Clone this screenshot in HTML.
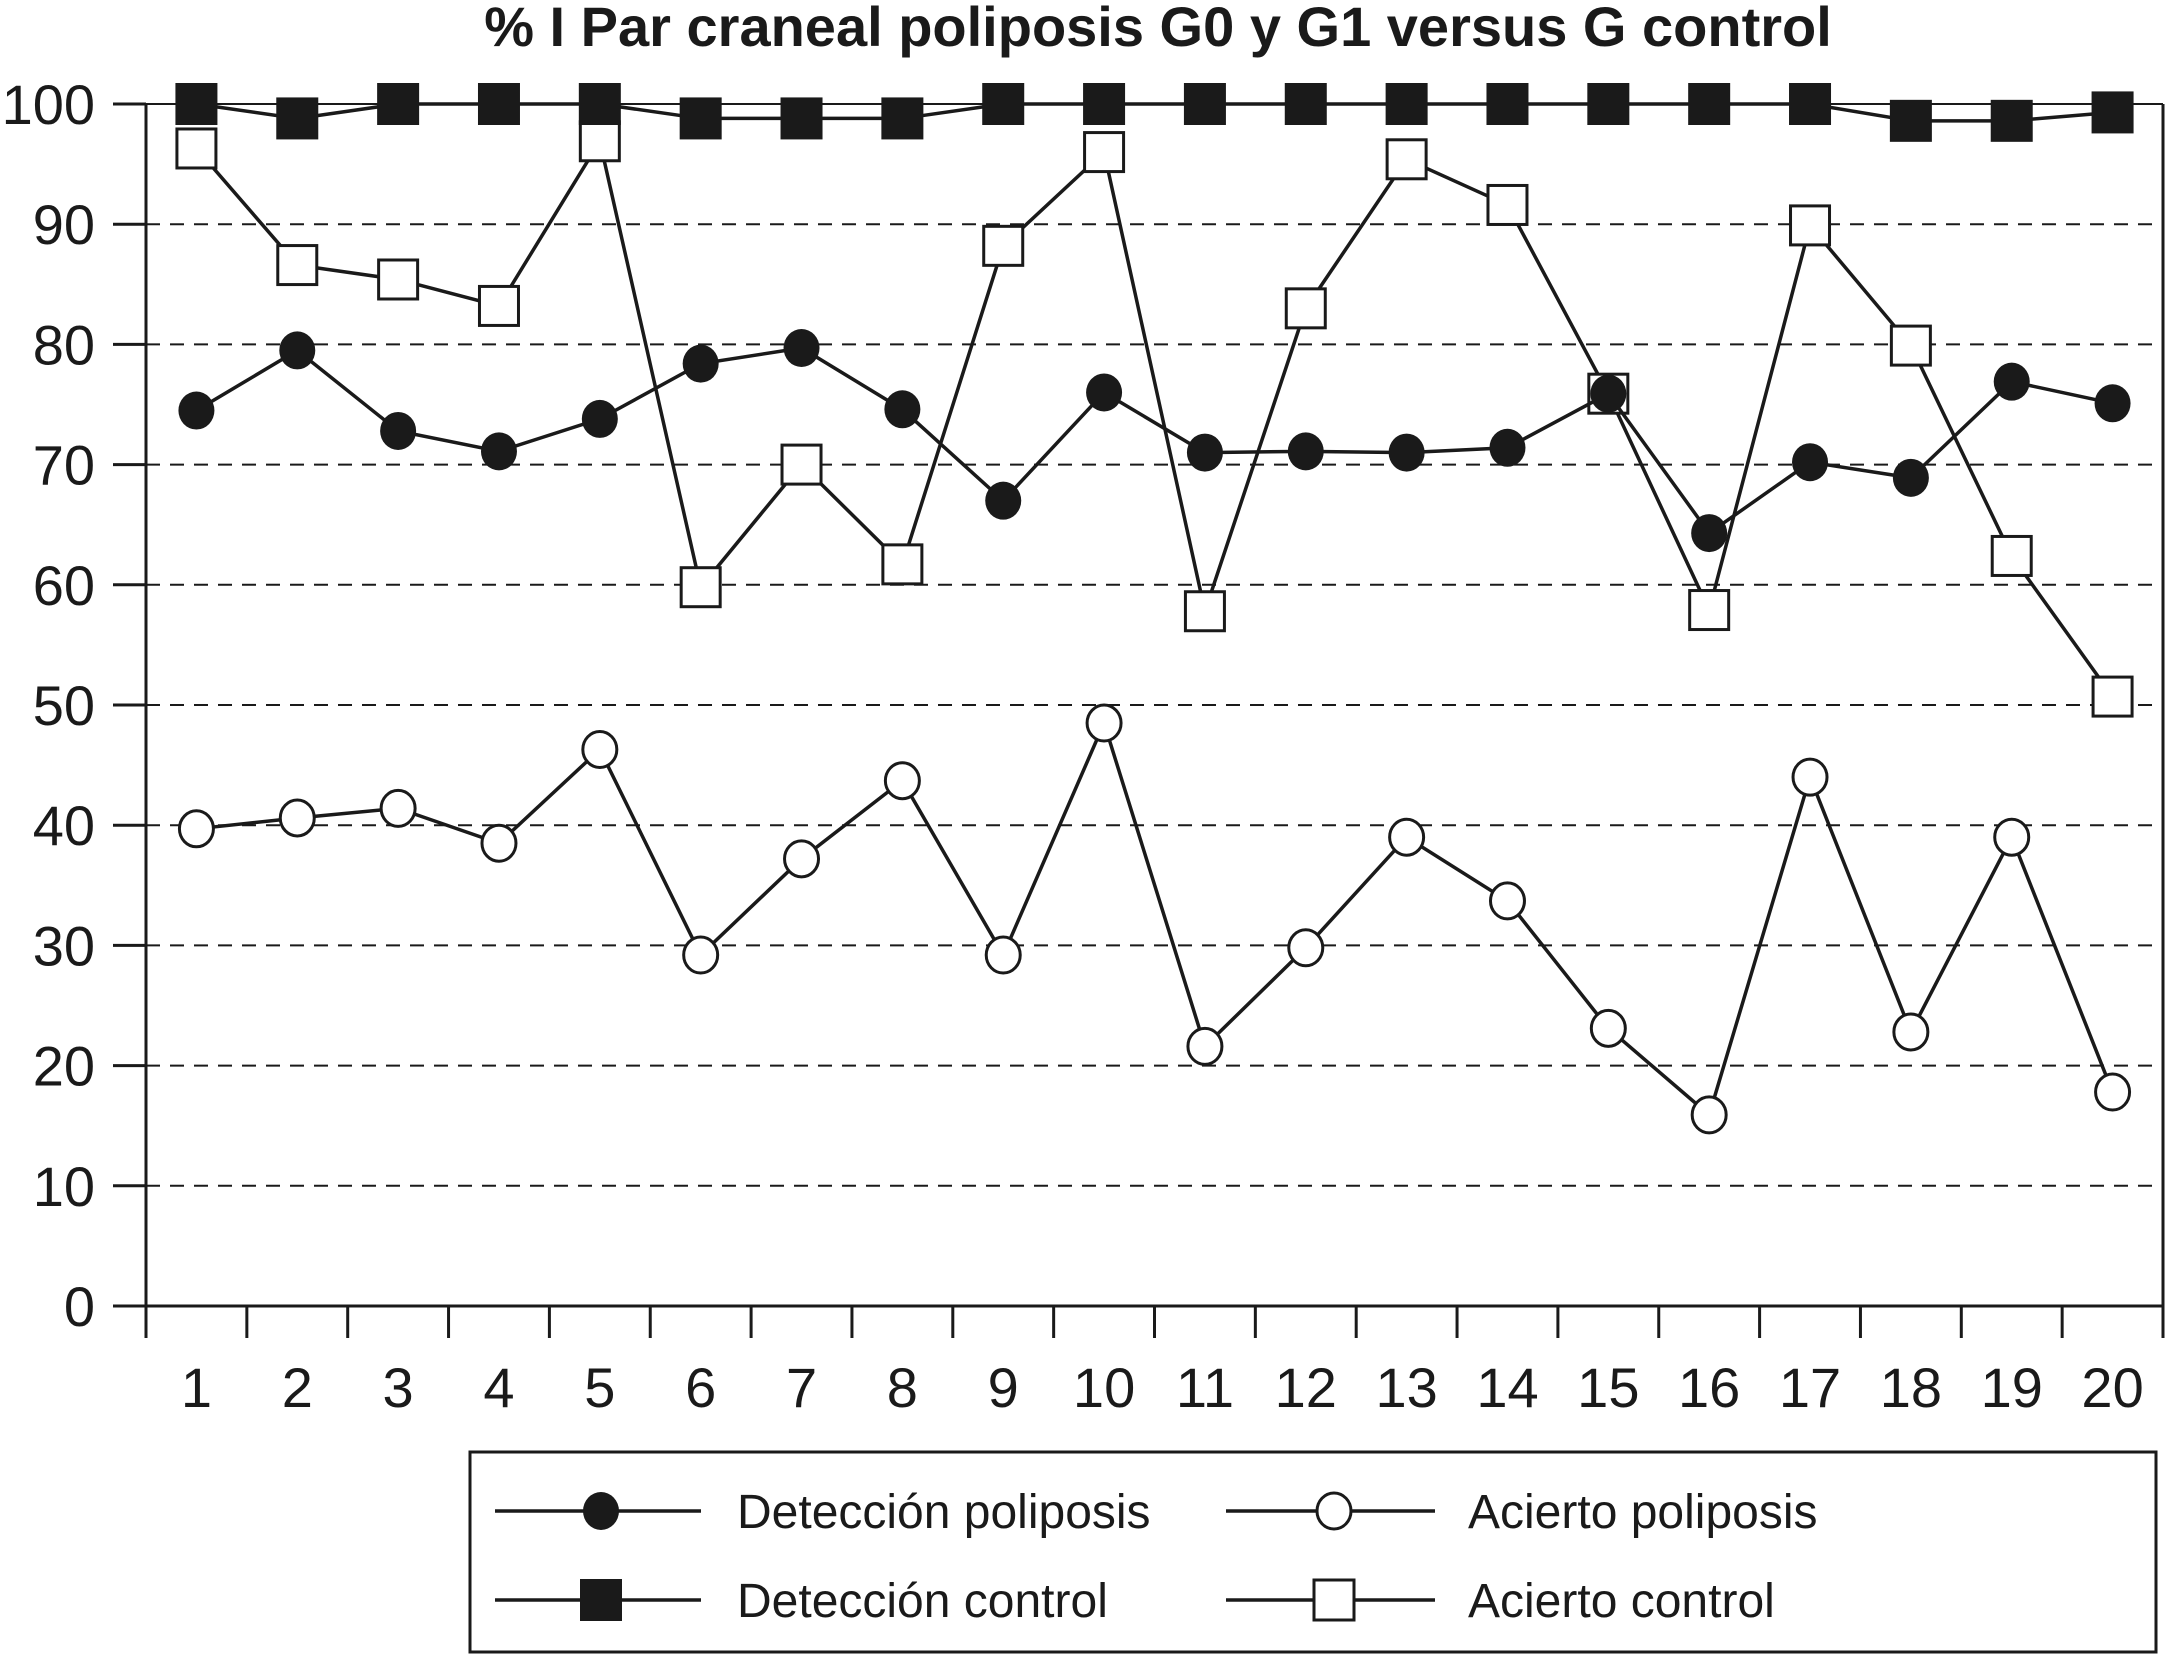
<!DOCTYPE html>
<html><head><meta charset="utf-8"><style>
html,body{margin:0;padding:0;background:#fff;}
svg{display:block;font-family:"Liberation Sans",Arial,sans-serif;}
</style></head><body>
<svg id="chart" width="2167" height="1654" viewBox="0 0 2167 1654">
<text x="1158" y="46" text-anchor="middle" font-size="56" font-weight="bold" fill="#1a1a1a">% I Par craneal poliposis G0 y G1 versus G control</text>
<g id="grid"></g><g id="axes"></g><g id="series"></g>
<g>
<rect x="470" y="1452" width="1686" height="200" fill="#fff" stroke="#1a1a1a" stroke-width="3"/>
<g>
<line x1="495" y1="1511" x2="701" y2="1511" stroke="#1a1a1a" stroke-width="3.5"/>
<ellipse cx="601" cy="1511" rx="18" ry="19" fill="#1a1a1a"/>
<text x="737" y="1528" font-size="48" fill="#1a1a1a">Detección poliposis</text></g>
<g>
<line x1="1226" y1="1511" x2="1435" y2="1511" stroke="#1a1a1a" stroke-width="3.5"/>
<ellipse cx="1334" cy="1511" rx="17" ry="18" fill="#fff" stroke="#1a1a1a" stroke-width="3"/>
<text x="1468" y="1528" font-size="48" fill="#1a1a1a">Acierto poliposis</text></g>
<g>
<line x1="495" y1="1600" x2="701" y2="1600" stroke="#1a1a1a" stroke-width="3.5"/>
<rect x="580" y="1579" width="42" height="42" fill="#1a1a1a"/>
<text x="737" y="1617" font-size="48" fill="#1a1a1a">Detección control</text></g>
<g>
<line x1="1226" y1="1600" x2="1435" y2="1600" stroke="#1a1a1a" stroke-width="3.5"/>
<rect x="1314" y="1580" width="40" height="40" fill="#fff" stroke="#1a1a1a" stroke-width="3"/>
<text x="1468" y="1617" font-size="48" fill="#1a1a1a">Acierto control</text></g>
</g>
</svg>
<script>
const categories = [1,2,3,4,5,6,7,8,9,10,11,12,13,14,15,16,17,18,19,20];
const yTicks = [0,10,20,30,40,50,60,70,80,90,100];
const deteccionPoliposis = [74.5,79.5,72.8,71.1,73.8,78.4,79.7,74.6,67,76,71,71.1,71,71.4,75.9,64.3,70.2,68.9,76.9,75.1];
const aciertoPoliposis = [39.7,40.6,41.4,38.5,46.3,29.2,37.2,43.7,29.2,48.5,21.6,29.8,39,33.7,23.1,15.9,44,22.8,39,17.8];
const deteccionControl = [100,98.8,100,100,100,98.8,98.8,98.8,100,100,100,100,100,100,100,100,100,98.6,98.6,99.3];
const aciertoControl = [96.3,86.6,85.4,83.2,96.9,59.8,70,61.7,88.2,96,57.8,83,95.4,91.6,75.9,57.9,89.9,79.9,62.4,50.7];

const NS='http://www.w3.org/2000/svg';
const X0=146, X1=2163, Y0=1306, Y100=104;
const step=(X1-X0)/categories.length;
function xs(i){return X0+step*(i+0.5);}
function ys(v){return Y0-(v/100)*(Y0-Y100);}
function mk(tag,attrs,parent){const e=document.createElementNS(NS,tag);for(const k in attrs)e.setAttribute(k,attrs[k]);parent.appendChild(e);return e;}
const grid=document.getElementById('grid'), axes=document.getElementById('axes'), series=document.getElementById('series');

yTicks.forEach(t=>{
  const y=ys(t);
  if(t>0){
    const g=mk('line',{x1:X0,y1:y,x2:X1,y2:y,stroke:'#1a1a1a','stroke-width':2,'stroke-dasharray':t===100?'none':'14 10'},grid);
    
    
  }
  const tk=mk('line',{x1:113,y1:y,x2:X0,y2:y,stroke:'#1a1a1a','stroke-width':3},axes);
  
  
  const lb=mk('text',{x:95,y:y+20,'text-anchor':'end','font-size':56,fill:'#1a1a1a'},axes);
  lb.textContent=t;
  
  
});
const ya=mk('line',{x1:X0,y1:Y100,x2:X0,y2:Y0+32,stroke:'#1a1a1a','stroke-width':3},axes);


const yr=mk('line',{x1:X1,y1:Y100,x2:X1,y2:Y0+32,stroke:'#1a1a1a','stroke-width':3},axes);


const xa=mk('line',{x1:113,y1:Y0,x2:X1,y2:Y0,stroke:'#1a1a1a','stroke-width':3},axes);


for(let i=0;i<=categories.length;i++){
  const x=X0+step*i;
  const t=mk('line',{x1:x,y1:Y0,x2:x,y2:Y0+32,stroke:'#1a1a1a','stroke-width':3},axes);
  
  
}
categories.forEach((c,i)=>{
  const t=mk('text',{x:xs(i),y:1407,'text-anchor':'middle','font-size':56,fill:'#1a1a1a'},axes);
  t.textContent=c;
  
  
});

function drawSeries(vals,name,shape,filled){
  const g=mk('g',{},series);
  
  
  const pl=mk('polyline',{points:vals.map((v,i)=>xs(i)+','+ys(v)).join(' '),fill:'none',stroke:'#1a1a1a','stroke-width':3.5},g);
  
  
  vals.forEach((v,i)=>{
    let m;
    if(shape==='circle'){
      m=mk('ellipse',{cx:xs(i),cy:ys(v),rx:filled?18:17,ry:filled?19:18,fill:filled?'#1a1a1a':'#fff',stroke:'#1a1a1a','stroke-width':filled?0:3},g);
    }else{
      const s=filled?42:39;
      m=mk('rect',{x:xs(i)-s/2,y:ys(v)-s/2,width:s,height:s,fill:filled?'#1a1a1a':'#fff',stroke:'#1a1a1a','stroke-width':filled?0:3},g);
    }
    
    
  });
}
drawSeries(aciertoControl,'acierto-control','square',false);
drawSeries(deteccionControl,'deteccion-control','square',true);
drawSeries(aciertoPoliposis,'acierto-poliposis','circle',false);
drawSeries(deteccionPoliposis,'deteccion-poliposis','circle',true);
</script>
</body></html>
